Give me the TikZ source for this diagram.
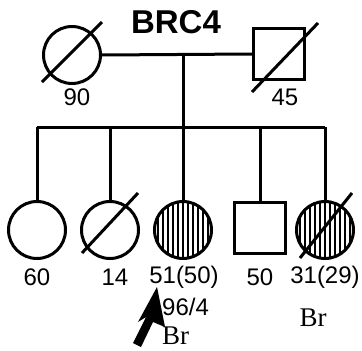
\documentclass[tikz,border=0pt]{standalone}
\usepackage{fontspec}
\setmainfont{Liberation Sans}
\newfontfamily\serifbr{Liberation Serif}
\begin{document}
\begin{tikzpicture}[x=1pt,y=-1pt,
  ln/.style={line width=3pt},
  fem/.style={circle,draw,line width=3pt,minimum size=57pt,inner sep=0pt},
  mal/.style={rectangle,draw,line width=3pt,minimum size=51pt,inner sep=0pt},
  hatch/.style={path picture={
      \foreach \k in {-30,-25,...,30}
        \draw[line width=2.5pt] ([xshift=\k pt]path picture bounding box.north) -- ([xshift=\k pt]path picture bounding box.south);}},
  num/.style={font=\fontsize{24}{24}\selectfont,inner sep=0pt},
  brl/.style={font=\serifbr\fontsize{27}{27}\selectfont,inner sep=0pt}]
\useasboundingbox (0,0) rectangle (362,351);
\fill[white] (0,0) rectangle (362,351);
% title
\node[font=\bfseries\fontsize{33}{33}\selectfont,inner sep=0pt] (title) at (176,22) {BRC4};
% parents
\node[fem] (gm) at (72,55) {};
\node[mal] (gf) at (279,54) {};
\coordinate (gm1) at (42,82); \coordinate (gm2) at (102,22);
\draw[ln] (gm1) -- (gm2);
\coordinate (gf1) at (252,92); \coordinate (gf2) at (318,23);
\draw[ln] (gf1) -- (gf2);
\node[num] (l90) at (77,97) {90};
\node[num] (l45) at (285,97) {45};
% marriage and sibship
\draw[ln] (gm.east) -- (gf.west);
\coordinate (m) at (183,54);
\coordinate (s) at (183,127);
\draw[ln] (m) -- (s);
\coordinate (sl) at (37,127);
\coordinate (sr) at (325,127);
\draw[ln] (sl) -- (sr);
% children
\node[fem] (c1) at (37,230) {};
\node[fem] (c2) at (110,230) {};
\node[fem,hatch] (c3) at (183,230) {};
\node[mal] (c4) at (260,228) {};
\node[fem,hatch] (c5) at (325,230) {};
\coordinate (c2a) at (82,253); \coordinate (c2b) at (138,193);
\draw[ln] (c2a) -- (c2b);
\coordinate (c5a) at (300,258); \coordinate (c5b) at (352,193);
\draw[ln] (c5a) -- (c5b);
\foreach \c/\x in {c1/37,c2/110,c3/183,c4/260,c5/325}
  \draw[ln] (\x,127) -- (\c.north);
% labels
\node[num] (l60) at (37,277) {60};
\node[num] (l14) at (115,277) {14};
\node[num] (l51) at (184,277) {51(50)};
\node[num] (l50) at (260,277) {50};
\node[num] (l31) at (325,277) {31(29)};
\node[num,anchor=west] (l96) at (162,307) {96/4};
\node[brl,anchor=west] (br1) at (162,336) {Br};
\node[brl] (br2) at (313,318) {Br};
% proband arrow
\fill (157,287) -- (165,327) -- (153,322) -- (141,347) -- (133,343) -- (146,317) -- (138,322) -- cycle;
\end{tikzpicture}
\end{document}
